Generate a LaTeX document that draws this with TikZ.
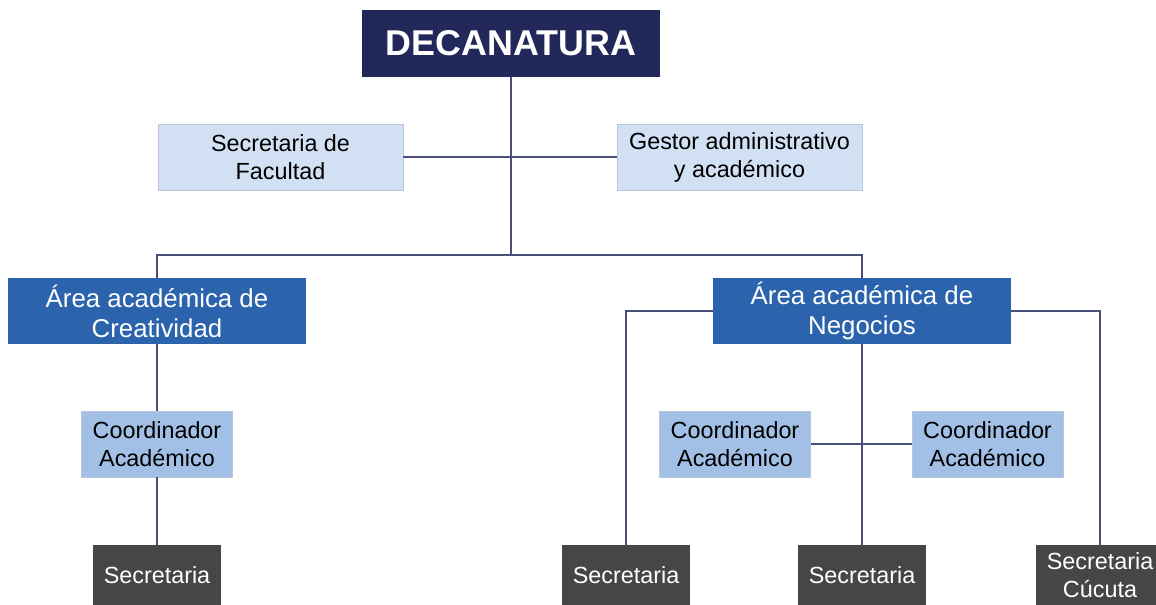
\documentclass[tikz,border=0pt]{standalone}
\usepackage{fontspec}
\setmainfont{Liberation Sans}
\definecolor{deannavy}{HTML}{23285A}
\definecolor{staffblue}{HTML}{D2E0F3}
\definecolor{areablue}{HTML}{2C63AD}
\definecolor{coordblue}{HTML}{A2C0E6}
\definecolor{secgray}{HTML}{464646}
\definecolor{edgegray}{HTML}{B9C5DA}
\definecolor{linkcol}{HTML}{4A4E7A}
\begin{document}
\begin{tikzpicture}[x=0.02cm,y=-0.02cm,every node/.style={align=center,inner sep=0pt,font=\fontsize{13.3}{15.9}\selectfont},
  dean/.style={fill=deannavy,text=white,minimum width=5.96cm,minimum height=1.34cm,font=\fontsize{20.4}{24}\selectfont\bfseries},
  staff/.style={fill=staffblue,draw=edgegray,thin,minimum width=4.9cm,minimum height=1.32cm},
  area/.style={fill=areablue,text=white,minimum width=5.96cm,minimum height=1.32cm,font=\fontsize{14.7}{17}\selectfont},
  coord/.style={fill=coordblue,draw=edgegray,thin,minimum width=3.02cm,minimum height=1.32cm},
  sec/.style={fill=secgray,text=white,minimum width=2.56cm,minimum height=1.2cm},
  link/.style={draw=linkcol,line width=0.75pt}]
\clip (0,0) rectangle (1156,605);
% top level
\node[dean] (dean) at (511,43.5) {DECANATURA};
\node[staff] (facultad) at (280.5,157) {Secretaria de\\Facultad};
\node[staff] (gestor) at (739.5,157) {Gestor administrativo\\y académico};
\coordinate (split) at (511,255);
% areas
\node[area] (crea) at (157,311) {Área académica de\\Creatividad};
\node[area] (neg) at (862,311) {Área académica de\\Negocios};
\node[coord] (coord1) at (157,444) {Coordinador\\Académico};
\node[coord] (coord2) at (735,444) {Coordinador\\Académico};
\node[coord] (coord3) at (987.5,444) {Coordinador\\Académico};
% secretarias
\foreach \n/\x in {sec1/157,sec2/626,sec3/862} {\node[sec] (\n) at (\x,575) {Secretaria};}
\node[sec] (cucuta) at (1100,575) {Secretaria\\Cúcuta};
% connectors
\draw[link] (facultad) -- (gestor);
\draw[link] (dean) -- (split);
\draw[link] (split) -| (crea.north); \draw[link] (split) -| (neg.north);
\draw[link] (crea) -- (coord1) -- (sec1);
\draw[link] (neg) -- (sec3); \draw[link] (coord2) -- (coord3);
\draw[link] (neg.west) -| (sec2.north); \draw[link] (neg.east) -| (cucuta.north);
\end{tikzpicture}
\end{document}
